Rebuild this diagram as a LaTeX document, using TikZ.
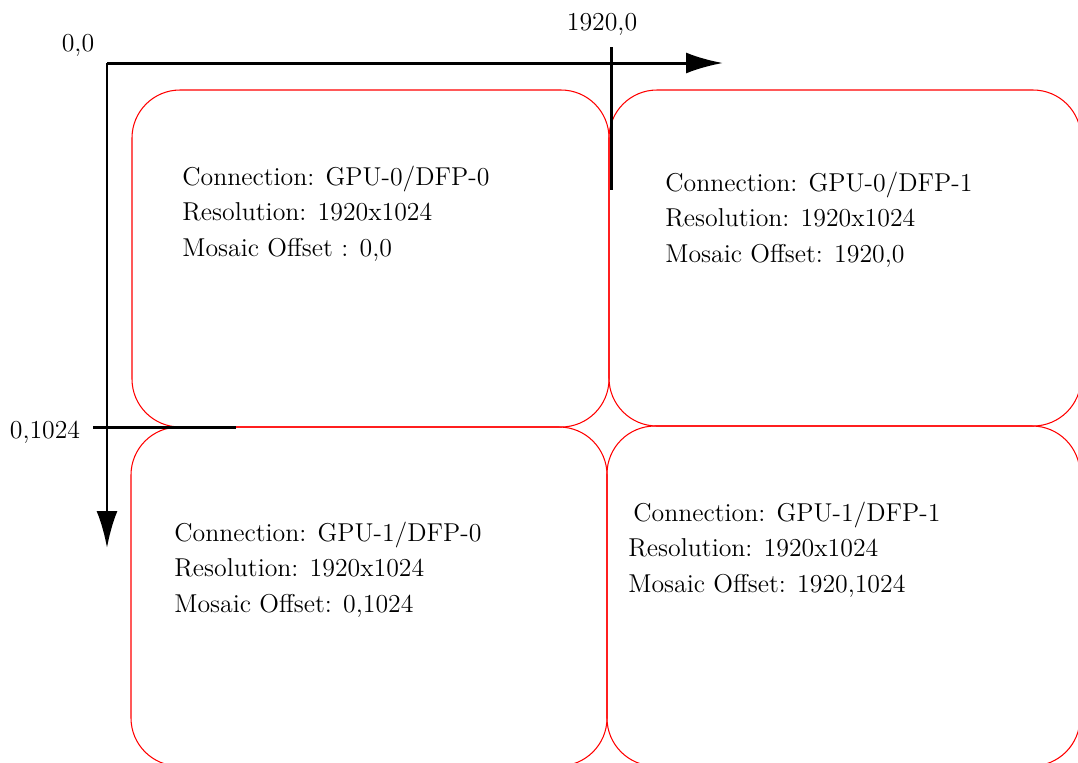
\documentclass[tikz,border=0pt]{standalone}
\usepackage{tikz}
\usetikzlibrary{arrows.meta}

\begin{document}
\begin{tikzpicture}[x=0.02cm, y=-0.02cm, font=\fontsize{14.7}{20}\selectfont, every node/.style={inner sep=0pt}]
        \tikzset{
            screen/.style={draw=red, line width=0.6pt, rounded corners=0.96cm},
            info/.style={anchor=base west, align=left},
            axis/.style={-{Latex[length=0.74cm, width=0.42cm]}, line width=1.7pt},
            tickline/.style={line width=1.7pt},
            lbl/.style={anchor=base}
        }
        \useasboundingbox (0,0) rectangle (1078,762);
        \clip (0,0) rectangle (1078,762);
        % the four screens
        \draw[screen] (132,90) rectangle (609,427);
        \draw[screen] (609,90) rectangle (1081,426);
        \draw[screen] (131,427) rectangle (607,766);
        \draw[screen] (607,426) rectangle (1080,766);
        % base anchor sits on the last line
        \node[info] (gpu0dfp0) at (182,256) {Connection: GPU-0/DFP-0\\Resolution: 1920x1024\\Mosaic Offset : 0,0};
        \node[info] (gpu0dfp1) at (665,262) {Connection: GPU-0/DFP-1\\Resolution: 1920x1024\\Mosaic Offset: 1920,0};
        \node[info] (gpu1dfp0) at (174,612) {Connection: GPU-1/DFP-0\\Resolution: 1920x1024\\Mosaic Offset: 0,1024};
        \node[info] (gpu1dfp1) at (628,592) {\hspace*{0.1cm}Connection: GPU-1/DFP-1\\Resolution: 1920x1024\\Mosaic Offset: 1920,1024};
        % axes
        \coordinate (origin) at (107,63);
        \coordinate (xend) at (723,63);
        \coordinate (yend) at (107,548);
        \coordinate (xtickA) at (611,47);
        \coordinate (xtickB) at (611,190);
        \coordinate (ytickA) at (93,427);
        \coordinate (ytickB) at (236,427);
        \draw[axis] (origin) -- (xend);
        \draw[axis] (origin) -- (yend);
        \draw[tickline] (xtickA) -- (xtickB);
        \draw[tickline] (ytickA) -- (ytickB);
        \node[lbl] (lblorigin) at (78,51) {0,0};
        \node[lbl] (lblx) at (602,30) {1920,0};
        \node[lbl] (lbly) at (45,438) {0,1024};
\end{tikzpicture}
\end{document}
